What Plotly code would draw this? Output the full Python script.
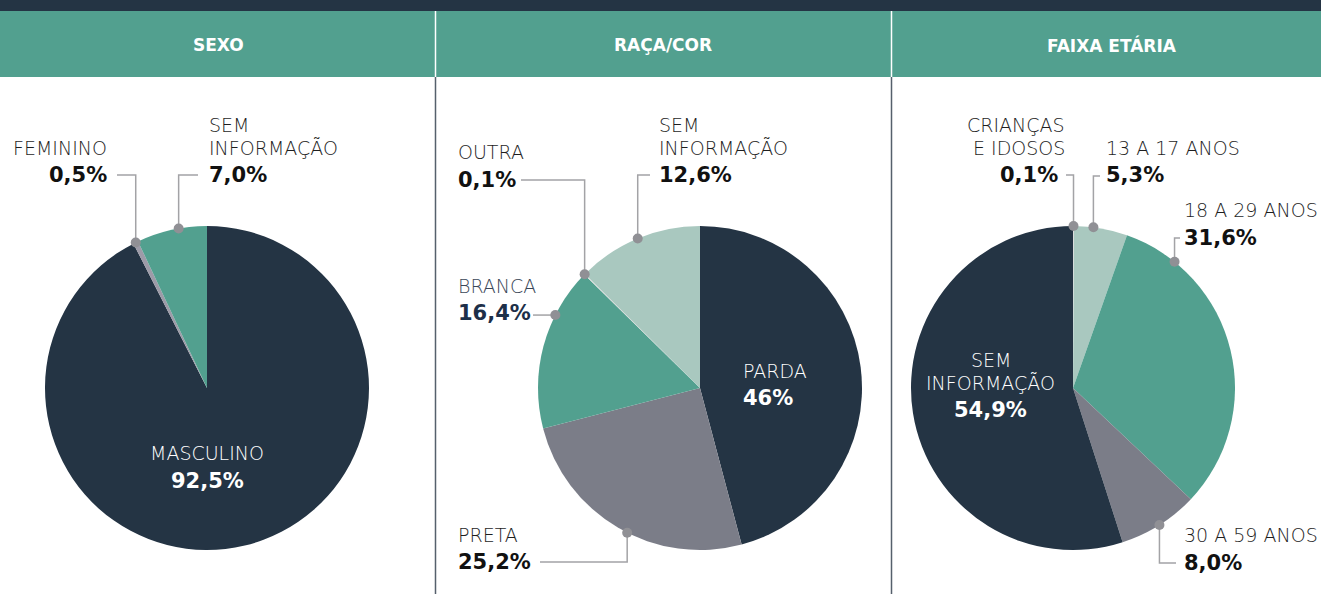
import math
import plotly.graph_objects as go

W, H = 1321, 594

# ---------------- data ----------------
sexo_labels = ["MASCULINO", "FEMININO", "SEM INFORMAÇÃO"]
sexo_values = [92.5, 0.5, 7.0]
sexo_text = ["92,5%", "0,5%", "7,0%"]

raca_labels = ["PARDA", "PRETA", "BRANCA", "OUTRA", "SEM INFORMAÇÃO"]
raca_values = [46.0, 25.2, 16.4, 0.1, 12.6]
raca_text = ["46%", "25,2%", "16,4%", "0,1%", "12,6%"]

faixa_labels = ["CRIANÇAS E IDOSOS", "13 A 17 ANOS", "18 A 29 ANOS", "30 A 59 ANOS", "SEM INFORMAÇÃO"]
faixa_values = [0.1, 5.3, 31.6, 8.0, 54.9]
faixa_text = ["0,1%", "5,3%", "31,6%", "8,0%", "54,9%"]

titles = ["SEXO", "RAÇA/COR", "FAIXA ETÁRIA"]

# ---------------- style ----------------
NAVY = "#243444"
GREY = "#7b7d88"
TEAL = "#52a08f"
LIGHT = "#a9c8bf"
TINY = "#dcdcdc"
FEM = "#9d9ba8"

sexo_colors = [NAVY, FEM, TEAL]
raca_colors = [NAVY, GREY, TEAL, TINY, LIGHT]
faixa_colors = [TINY, LIGHT, TEAL, GREY, NAVY]

FONT = "DejaVu Sans"
LSIZE = 19
BSIZE = 21
LW = 200
LCOL = "#1e1e1e"
R = 162
centers = [(207, 388), (700, 388), (1073, 388)]


def X(px):
    return px / W


def Y(py):
    return 1 - py / H


fig = go.Figure()

for (cx, cy), labels, values, colors in [
    (centers[0], sexo_labels, sexo_values, sexo_colors),
    (centers[1], raca_labels, raca_values, raca_colors),
    (centers[2], faixa_labels, faixa_values, faixa_colors),
]:
    fig.add_trace(go.Pie(
        labels=labels, values=values, sort=False, direction="clockwise",
        rotation=0, textinfo="none", hoverinfo="label+percent",
        marker=dict(colors=colors, line=dict(width=0)),
        domain=dict(x=[X(cx - R), X(cx + R)], y=[Y(cy + R), Y(cy - R)]),
        showlegend=False,
    ))

shapes = []
annotations = []

# background bars
shapes.append(dict(type="rect", xref="paper", yref="paper", x0=0, x1=1,
                   y0=Y(11), y1=1, fillcolor=NAVY, line=dict(width=0), layer="below"))
shapes.append(dict(type="rect", xref="paper", yref="paper", x0=0, x1=1,
                   y0=Y(77), y1=Y(11), fillcolor=TEAL, line=dict(width=0), layer="below"))
for dx in [435.5, 891.5]:
    shapes.append(dict(type="line", xref="paper", yref="paper", x0=X(dx), x1=X(dx),
                       y0=Y(11), y1=Y(77), line=dict(color="white", width=1.5)))
    shapes.append(dict(type="line", xref="paper", yref="paper", x0=X(dx), x1=X(dx),
                       y0=Y(77), y1=0, line=dict(color="#56606c", width=1.5)))

for tx, t in zip([218, 663, 1112], titles):
    annotations.append(dict(x=X(tx), y=Y(45), xref="paper", yref="paper", text=t,
                            showarrow=False, xanchor="center", yanchor="middle",
                            font=dict(family=FONT, size=17, color="white", weight=700)))


def txt(x, y, text, size=LSIZE, color=LCOL, weight=LW, anchor="left"):
    shift = {"left": -2, "right": 2, "center": 0}[anchor]
    annotations.append(dict(x=X(x), y=Y(y), xref="paper", yref="paper", text=text,
                            showarrow=False, xanchor=anchor, yanchor="middle", xshift=shift,
                            font=dict(family=FONT, size=size, color=color, weight=weight)))


def edge_point(values, i, frac, center):
    total = sum(values)
    start = sum(values[:i]) / total * 360
    a = math.radians(start + frac * values[i] / total * 360)
    cx, cy = center
    return cx + R * math.sin(a), cy - R * math.cos(a)


def leader(values, i, frac, center, ly, lx, route="v"):
    px, py = edge_point(values, i, frac, center)
    if route == "v":
        path = f"M{X(px)},{Y(py)} L{X(px)},{Y(ly)} L{X(lx)},{Y(ly)}"
    else:
        path = f"M{X(px)},{Y(py)} L{X(lx)},{Y(py)}"
    shapes.append(dict(type="path", xref="paper", yref="paper", path=path,
                       line=dict(color="#a3a3a6", width=1.5)))
    rr = 5
    shapes.append(dict(type="circle", xref="paper", yref="paper",
                       x0=X(px - rr), x1=X(px + rr), y0=Y(py + rr), y1=Y(py - rr),
                       fillcolor="#909095", line=dict(width=0)))


BLACK = "#111111"

# ---- SEXO ----
c = centers[0]
txt(207, 453, sexo_labels[0], color="white", anchor="center")
txt(207, 481, sexo_text[0], size=BSIZE, color="white", weight=700, anchor="center")
txt(107, 148, sexo_labels[1], anchor="right")
txt(107, 175, sexo_text[1], size=BSIZE, color=BLACK, weight=700, anchor="right")
leader(sexo_values, 1, 0.5, c, 175, 117)
txt(209, 125, "SEM", anchor="left")
txt(209, 148, "INFORMAÇÃO", anchor="left")
txt(209, 175, sexo_text[2], size=BSIZE, color=BLACK, weight=700, anchor="left")
leader(sexo_values, 2, 0.6, c, 175, 198)

# ---- RAÇA/COR ----
c = centers[1]
txt(743, 371, raca_labels[0], color="white", anchor="left")
txt(743, 398, raca_text[0], size=BSIZE, color="white", weight=700, anchor="left")
txt(458, 535, raca_labels[1], anchor="left")
txt(458, 562, raca_text[1], size=BSIZE, color=BLACK, weight=700, anchor="left")
leader(raca_values, 1, 0.46, c, 562, 540)
txt(458, 286, raca_labels[2], color="#3a4758", anchor="left")
txt(458, 313, raca_text[2], size=BSIZE, color="#1d2f48", weight=700, anchor="left")
leader(raca_values, 2, 0.7, c, 314, 533, route="h")
txt(458, 152, raca_labels[3], anchor="left")
txt(458, 180, raca_text[3], size=BSIZE, color=BLACK, weight=700, anchor="left")
leader(raca_values, 3, 0.5, c, 180, 521)
txt(659, 125, "SEM", anchor="left")
txt(659, 148, "INFORMAÇÃO", anchor="left")
txt(659, 175, raca_text[4], size=BSIZE, color=BLACK, weight=700, anchor="left")
leader(raca_values, 4, 0.5, c, 175, 650)

# ---- FAIXA ETÁRIA ----
c = centers[2]
txt(1065, 125, "CRIANÇAS", anchor="right")
txt(1065, 148, "E IDOSOS", anchor="right")
txt(1058, 175, faixa_text[0], size=BSIZE, color=BLACK, weight=700, anchor="right")
leader(faixa_values, 0, 0.5, c, 175, 1066)
txt(1106, 148, faixa_labels[1], anchor="left")
txt(1106, 175, faixa_text[1], size=BSIZE, color=BLACK, weight=700, anchor="left")
leader(faixa_values, 1, 0.36, c, 176, 1100)
txt(1184, 210, faixa_labels[2], anchor="left")
txt(1184, 238, faixa_text[2], size=BSIZE, color=BLACK, weight=700, anchor="left")
leader(faixa_values, 2, 0.17, c, 238, 1180)
txt(1184, 535, faixa_labels[3], anchor="left")
txt(1184, 563, faixa_text[3], size=BSIZE, color=BLACK, weight=700, anchor="left")
leader(faixa_values, 3, 0.5, c, 563, 1176)
txt(991, 360, "SEM", color="white", anchor="center")
txt(991, 383, "INFORMAÇÃO", color="white", anchor="center")
txt(990, 410, faixa_text[4], size=BSIZE, color="white", weight=700, anchor="center")

fig.update_layout(
    width=W, height=H, margin=dict(l=0, r=0, t=0, b=0),
    paper_bgcolor="white", plot_bgcolor="white",
    shapes=shapes, annotations=annotations,
    font=dict(family=FONT),
)

fig.write_html("out.html", config={"displayModeBar": False},
               post_script="document.body.style.margin='0';document.body.style.overflow='hidden';")
